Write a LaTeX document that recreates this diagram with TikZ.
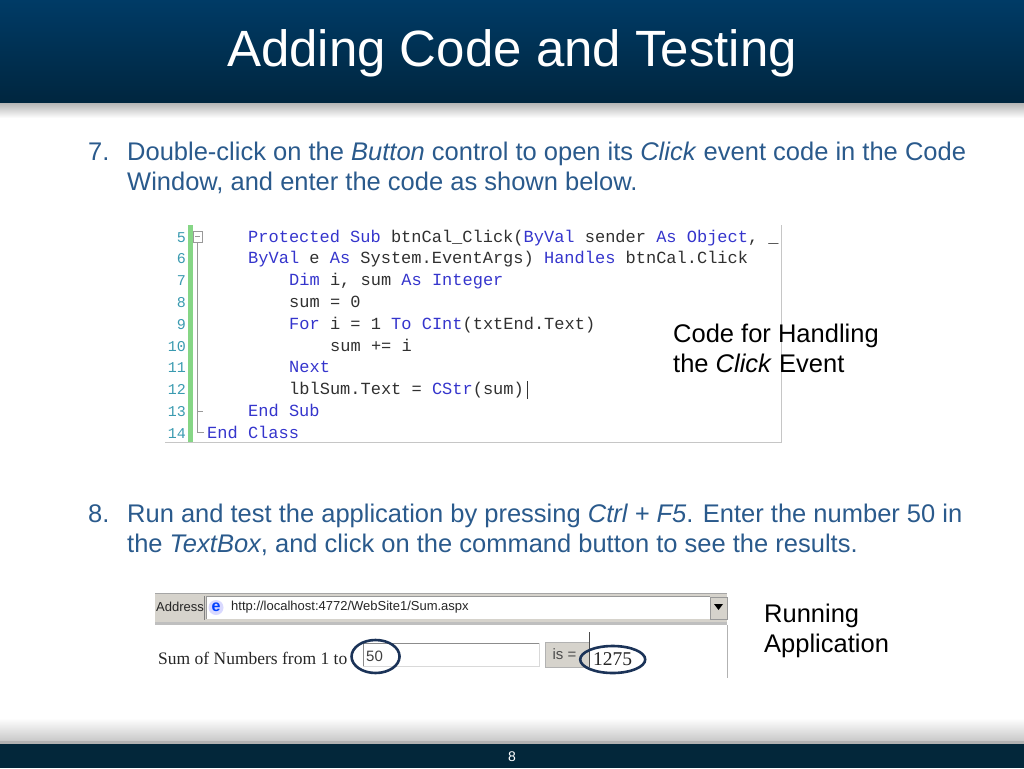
\documentclass[tikz,border=0pt]{standalone}
\usepackage{fontspec}
\setmainfont{Liberation Sans}
\setmonofont{Liberation Mono}
\newfontfamily\webserif{Liberation Serif}
\usetikzlibrary{positioning}
\definecolor{bodyblue}{HTML}{2A5A8C}
\definecolor{kwblue}{HTML}{3535CC}
\definecolor{codegray}{HTML}{303030}
\definecolor{lnteal}{HTML}{3A9AB0}
\definecolor{bartop}{HTML}{003B66}
\definecolor{barbot}{HTML}{00263F}
\definecolor{footbg}{HTML}{03273A}
\definecolor{ringblue}{HTML}{1B3358}
\definecolor{wingray}{HTML}{D6D3CC}
\definecolor{foldgreen}{HTML}{86D686}
\newcommand{\kw}[1]{\textcolor{kwblue}{#1}}
\tikzset{
  body/.style={anchor=base west, inner sep=0pt, text=bodyblue, font=\fontsize{25.5}{30}\selectfont},
  plain/.style={anchor=base west, inner sep=0pt, text=black, font=\fontsize{25.5}{30}\selectfont},
  codeline/.style={anchor=base west, inner sep=0pt, text=codegray, font=\ttfamily\fontsize{17}{20}\selectfont},
  ring/.style={draw=ringblue, line width=2.6pt}
}
\begin{document}
\begin{tikzpicture}[x=1pt,y=-1pt]
\useasboundingbox (0,0) rectangle (1024,768);
% title bar
\shade[top color=gray!70, bottom color=white] (0,100) rectangle (1024,118);
\shade[top color=bartop, bottom color=barbot] (0,0) rectangle (1024,102);
\node[text=white, font=\fontsize{51}{60}\selectfont] (title) at (512,53) {Adding Code and Testing};
% footer
\shade[top color=white, bottom color=gray!45] (0,718) rectangle (1024,742);
\fill[gray!60] (0,741) rectangle (1024,744);
\fill[footbg] (0,744) rectangle (1024,768);
\node[text=white, font=\fontsize{14}{16}\selectfont] (page) at (512,757) {8};

% step 7
\node[body] (n7) at (88,160) {7.};
\node[body] (s7a) at (127,160) {Double-click on the \textit{Button} control to open its \textit{Click} event code in the Code};
\node[body] (s7b) at (127,190) {Window, and enter the code as shown below.};

% code window
\fill[foldgreen] (188,225) rectangle (193,442);
\draw[gray!45] (165,442) -- (781,442) -- (781,225);
\foreach \n in {5,...,14}
{
	\node[anchor=base east, inner sep=0pt, text=lnteal, font=\ttfamily\fontsize{15}{18}\selectfont] (ln\n) at (186,{242+21.8*(\n-5)}) {\n};
}
\draw[gray!80] (193,231) rectangle (202,242);
\draw[gray!80] (195,236.5) -- (200,236.5);
\draw[gray!80] (197.5,242) -- (197.5,432) -- (204,432);
\draw[gray!80] (197.5,411) -- (203,411);
\node[codeline] (c5) at (248,242) {\kw{Protected Sub} btnCal\_Click(\kw{ByVal} sender \kw{As} \kw{Object}, \_};
\node[codeline] (c6) at (248,263.8) {\kw{ByVal} e \kw{As} System.EventArgs) \kw{Handles} btnCal.Click};
\node[codeline] (c7) at (289,285.6) {\kw{Dim} i, sum \kw{As} \kw{Integer}};
\node[codeline] (c8) at (289,307.4) {sum = 0};
\node[codeline] (c9) at (289,329.2) {\kw{For} i = 1 \kw{To} \kw{CInt}(txtEnd.Text)};
\node[codeline] (c10) at (330,351) {sum += i};
\node[codeline] (c11) at (289,372.8) {\kw{Next}};
\node[codeline] (c12) at (289,394.6) {lblSum.Text = \kw{CStr}(sum)};
\node[codeline] (c13) at (248,416.4) {\kw{End Sub}};
\node[codeline] (c14) at (207,438.2) {\kw{End Class}};
\draw[black!80, line width=1pt] (c12.east) ++(3,-9) -- ++(0,18);

\node[plain] (codelbl) at (673,342) {Code for Handling};
\node[plain] (codelbl2) at (673,372) {the \textit{Click} Event};

% step 8
\node[body] (n8) at (88,522) {8.};
\node[body] (s8a) at (127,522) {Run and test the application by pressing \textit{Ctrl + F5}. Enter the number 50 in};
\node[body] (s8b) at (127,552) {the \textit{TextBox}, and click on the command button to see the results.};

% browser window
\fill[wingray] (155,593) rectangle (727,622);
\draw[gray!70, line width=1pt] (155,593.5) -- (727,593.5);
\node[anchor=west, inner sep=0pt, text=black!85, font=\fontsize{13}{15}\selectfont] (addr) at (156,607) {Address};
\draw[gray] (204,596) -- (204,620);
\fill[white] (206,596) rectangle (710,619);
\draw[gray!80] (206,619) -- (206,596) -- (710,596);
\node[circle, fill=blue!15, text=blue!75!cyan, inner sep=0pt, minimum size=15pt, font=\bfseries\fontsize{16}{16}\selectfont] (ie) at (216,607.5) {e};
\node[anchor=west, inner sep=0pt, text=black!85, font=\fontsize{13}{15}\selectfont] (url) at (231,607.5) {http://localhost:4772/WebSite1/Sum.aspx};
\filldraw[fill=wingray, draw=gray!80] (710,597) rectangle (727,619);
\fill[black] (714,604) -- (723,604) -- (718.5,610) -- cycle;
\fill[gray!50] (155,622) rectangle (727,625);
\draw[gray!60] (727,625) -- (727,678);

\node[anchor=west, inner sep=0pt, text=black!85, font=\webserif\fontsize{17.5}{20}\selectfont] (sumlbl) at (158,658) {Sum of Numbers from 1 to};
\fill[white] (363,643) rectangle (539,666);
\draw[gray!90, line width=1pt] (363,666) -- (363,643) -- (539,643);
\draw[gray!30] (539,643) -- (539,666) -- (363,666);
\node[anchor=west, inner sep=0pt, text=black!75, font=\fontsize{15}{17}\selectfont] (inval) at (366,656) {50};
\filldraw[fill=wingray, draw=gray!60] (545,642) rectangle (589,667);
\draw[black!70, line width=1pt] (589,632) -- (589,667);
\node[text=black!70, font=\fontsize{15}{17}\selectfont] (btn) at (564.5,654.5) {is =};
\node[anchor=west, inner sep=0pt, text=black!85, font=\webserif\fontsize{19.5}{23}\selectfont] (result) at (593,659) {1275};
\draw[ring] (inval.center) ++(1,0.5) ellipse [x radius=24, y radius=16.5];
\draw[ring] (result.center) ++(0,0.5) ellipse [x radius=32.5, y radius=13.5];

\node[plain] (runlbl) at (764,622) {Running};
\node[plain] (runlbl2) at (764,652) {Application};
\end{tikzpicture}
\end{document}
